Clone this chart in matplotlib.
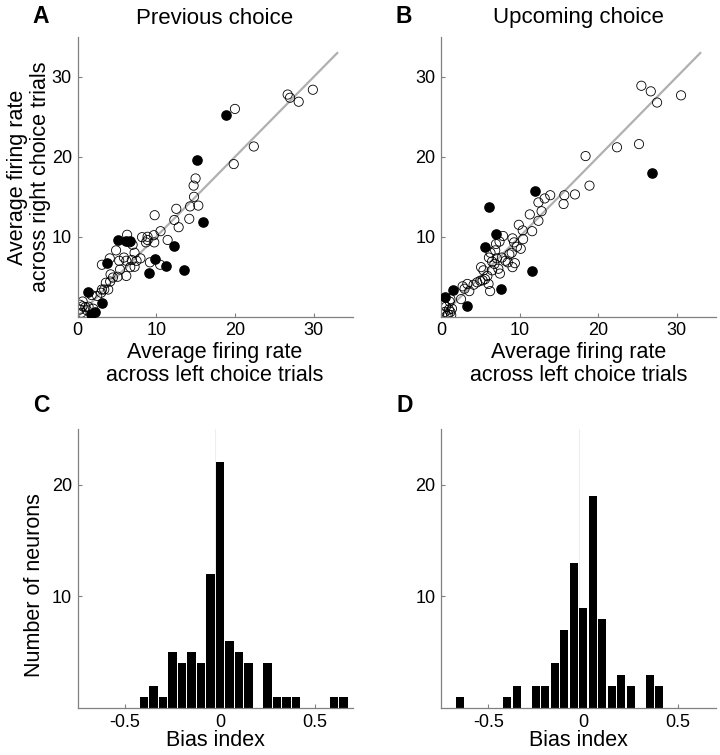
import numpy as np
import matplotlib
matplotlib.use("Agg")
import matplotlib.pyplot as plt

plt.rcParams['font.family'] = ['Liberation Sans', 'DejaVu Sans']

# ---- panel A: previous choice (left-trial rate, right-trial rate) ----
prevOpenX = [29.9, 26.7, 27.0, 28.1, 20.0, 22.4, 19.85, 15.0, 14.75, 14.8, 15.35, 14.3, 12.55,
             14.2, 12.3, 12.85, 9.8, 10.55, 11.45, 9.7, 9.75, 8.9, 8.2, 8.7, 6.3, 6.6, 4.9,
             7.25, 4.1, 5.3, 6.2, 6.9, 8.0, 9.2, 10.5, 3.1, 5.4, 6.7, 7.25, 6.2, 4.2, 4.5,
             5.1, 4.15, 3.6, 3.9, 3.1, 3.4, 1.8, 0.65, 0.65, 1.0, 0.3, 1.4, 8.9, 5.9, 7.5,
             3.0, 0.5, 1.2, 0.3, 2.0, 7.0, 2.5]
prevOpenY = [28.4, 27.8, 27.4, 26.9, 26.0, 21.3, 19.1, 17.3, 16.4, 15.0, 13.9, 13.8, 13.5,
             12.25, 12.1, 11.2, 12.7, 10.7, 9.6, 10.2, 9.3, 10.0, 9.95, 9.3, 10.25, 9.3, 8.3,
             8.0, 7.3, 7.0, 7.0, 7.1, 7.3, 6.8, 6.5, 6.5, 5.9, 6.2, 6.25, 5.1, 5.3, 4.9,
             5.0, 4.4, 4.25, 3.4, 3.4, 3.4, 2.7, 1.9, 1.3, 1.2, 0.9, 1.25, 9.6, 7.4, 7.0,
             3.0, 0.5, 0.8, 1.5, 1.0, 9.0, 2.6]
prevSigX = [18.9, 15.2, 16.0, 12.3, 13.5, 11.2, 9.8, 9.1, 5.2, 6.1, 6.7, 3.8, 1.3, 3.1, 1.7, 2.2]
prevSigY = [25.2, 19.6, 11.8, 8.8, 5.8, 6.4, 7.25, 5.5, 9.6, 9.5, 9.5, 6.75, 3.1, 1.7, 0.4, 0.6]

# ---- panel B: upcoming choice ----
upOpenX = [25.5, 26.7, 27.5, 30.55, 22.4, 25.2, 18.4, 18.9, 17.05, 15.7, 15.6, 13.9, 13.2,
           12.4, 12.8, 11.3, 12.4, 11.6, 9.9, 10.4, 10.45, 9.1, 9.65, 10.15, 9.0, 7.9, 7.45,
           7.0, 6.9, 6.1, 7.1, 7.75, 8.2, 9.4, 9.1, 6.5, 6.5, 7.5, 5.1, 5.4, 5.6, 5.0, 5.3,
           4.15, 3.35, 2.75, 3.6, 6.25, 6.05, 2.55, 1.2, 0.63, 1.2, 0.5, 1.1, 0.9, 1.4, 0.4,
           1.3, 6.8, 7.3, 8.5, 4.6, 5.9, 3.0, 9.3, 6.3, 1.0, 0.7, 8.7]
upOpenY = [28.9, 28.2, 26.8, 27.7, 21.2, 21.6, 20.1, 16.4, 15.3, 15.2, 14.1, 15.2, 14.8,
           14.3, 13.2, 12.8, 12.0, 10.7, 11.5, 10.8, 9.7, 9.8, 8.75, 8.5, 8.0, 10.1, 9.4,
           9.1, 8.3, 7.4, 7.3, 7.4, 7.0, 6.7, 6.2, 6.9, 5.8, 5.4, 6.2, 5.8, 4.7, 4.5, 4.55,
           4.0, 4.1, 3.8, 3.2, 3.2, 4.1, 2.2, 2.2, 1.25, 0.6, 0.6, 1.9, 0.3, 1.0, 1.5,
           0.2, 6.6, 6.0, 6.8, 4.3, 5.1, 3.5, 9.3, 8.0, 0.9, 0.1, 7.8]
upSigX = [26.9, 11.9, 6.05, 6.95, 5.6, 11.6, 7.6, 1.5, 0.47, 3.3]
upSigY = [18.0, 15.7, 13.7, 10.4, 8.7, 5.7, 3.5, 3.3, 2.5, 1.4]

diag = [0, 33]

# ---- panels C, D: bias index histograms (bin centres, counts) ----
binCenters = np.round(np.arange(-0.65, 0.651, 0.05), 2)
prevCounts = [0, 0, 0, 0, 0, 1, 2, 1, 5, 4, 5, 4, 12, 22, 6, 5, 4, 0, 4, 1, 1, 1, 0, 0, 0, 1, 1]
upCounts   = [1, 0, 0, 0, 0, 1, 2, 0, 2, 2, 4, 7, 13, 9, 19, 8, 2, 3, 2, 0, 3, 2, 0, 0, 0, 0, 0]

gray = '#808080'
W, H = 720, 755
fig = plt.figure(figsize=(W / 100, H / 100), dpi=100)


def box(l, t, r, b):
    return [l / W, 1 - b / H, (r - l) / W, (b - t) / H]


def style(ax):
    for s in ['top', 'right']:
        ax.spines[s].set_visible(False)
    for s in ['left', 'bottom']:
        ax.spines[s].set_color(gray)
        ax.spines[s].set_linewidth(0.9)
    ax.tick_params(direction='in', length=3, color=gray, labelsize=13, pad=4)


def scatter_panel(ax, ox, oy, sx, sy):
    ax.plot(diag, diag, color='#b0b0b0', lw=1.6, zorder=1)
    ax.scatter(ox, oy, s=44, facecolors='none', edgecolors='black', linewidths=0.6, zorder=2)
    ax.scatter(sx, sy, s=44, color='black', zorder=3)
    ax.set_xlim(0, 35)
    ax.set_ylim(0, 35)
    ax.set_xticks([0, 10, 20, 30])
    ax.set_yticks([10, 20, 30])
    style(ax)


def hist_panel(ax, counts):
    ax.axvline(-0.025, color='#eeeeee', lw=0.8, zorder=0)
    ax.bar(binCenters, counts, width=0.043, color='black', zorder=2)
    ax.set_xlim(-0.75, 0.7)
    ax.set_ylim(0, 25)
    ax.set_xticks([-0.5, 0, 0.5])
    ax.set_xticklabels(['-0.5', '0', '0.5'])
    ax.set_yticks([10, 20])
    style(ax)


axA = fig.add_axes(box(77.5, 37, 353, 316.7))
scatter_panel(axA, prevOpenX, prevOpenY, prevSigX, prevSigY)
axB = fig.add_axes(box(441, 37, 716, 316.7))
scatter_panel(axB, upOpenX, upOpenY, upSigX, upSigY)
axC = fig.add_axes(box(77.5, 429, 353, 708))
hist_panel(axC, prevCounts)
axD = fig.add_axes(box(441, 429, 716, 708))
hist_panel(axD, upCounts)

# titles, panel letters, labels
fig.text(215 / W, 1 - 23.5 / H, 'Previous choice', fontsize=16, ha='center', va='baseline')
fig.text(578.5 / W, 1 - 23.5 / H, 'Upcoming choice', fontsize=16, ha='center', va='baseline')
for letter, x, y in [('A', 32, 23), ('B', 395, 23), ('C', 33, 412), ('D', 396, 412)]:
    fig.text(x / W, 1 - y / H, letter, fontsize=16.5, fontweight='bold', ha='left', va='baseline')

xl = 'Average firing rate\nacross left choice trials'
for cx in [215, 578.5]:
    fig.text(cx / W, 1 - 364 / H, xl, fontsize=15.5, ha='center', va='center',
             multialignment='center', linespacing=1.1)
fig.text(29 / W, 1 - 177 / H, 'Average firing rate\nacross right choice trials', fontsize=15.5,
         ha='center', va='center', rotation=90, multialignment='center', linespacing=1.1)
fig.text(35 / W, 1 - 585 / H, 'Number of neurons', fontsize=15.5, ha='center', va='center', rotation=90)
for cx in [215, 578.5]:
    fig.text(cx / W, 1 - 741 / H, 'Bias index', fontsize=15.5, ha='center', va='center')

fig.savefig('out.png', dpi=100)
